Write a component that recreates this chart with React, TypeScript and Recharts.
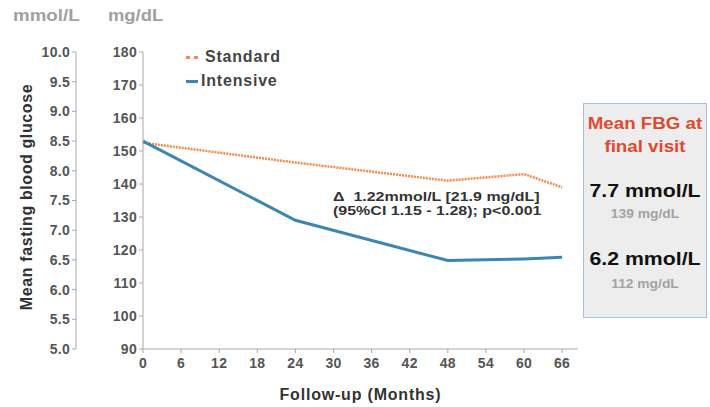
import React from 'react';
import {
    LineChart,
    Line,
    XAxis,
    YAxis
} from 'recharts';

const MONTHS = [0, 24, 48, 60, 66];
const STANDARD = [152.5, 146.5, 141, 143, 139];
const INTENSIVE = [153, 129, 116.8, 117.3, 117.8];

const MONTH_TICKS = [0, 6, 12, 18, 24, 30, 36, 42, 48, 54, 60, 66];
const MGDL_TICKS = [90, 100, 110, 120, 130, 140, 150, 160, 170, 180];
const MMOL_TICKS = [5.0, 5.5, 6.0, 6.5, 7.0, 7.5, 8.0, 8.5, 9.0, 9.5, 10.0];

// mmol/L = mg/dL / 18, used only to give the mmol axis something to scale
const chartData = MONTHS.map((m, i) => ({
    month: m,
    standard: STANDARD[i],
    intensive: INTENSIVE[i],
    standardMmol: STANDARD[i] / 18
}));

const ORANGE = '#f28a4c';
const BLUE = '#3d86b3';
const AXIS = '#a8a8a8';
const TICK = { fill: '#555', fontSize: 14, fontWeight: 700, letterSpacing: 0.3 };

const FONT = 'Arial, "Liberation Sans", sans-serif';

// a line of centred text, stretched a little wider like the source image
const Stretch = ({ top, h, size, color, sx, children }: any) => (
    <div style={{
        position: 'absolute', left: 0, right: 0, top, height: h, lineHeight: `${h}px`,
        fontSize: size, color, fontWeight: 700, textAlign: 'center', whiteSpace: 'nowrap',
        transform: `scaleX(${sx})`, transformOrigin: 'center'
    }}>
        {children}
    </div>
);

export default function App() {
    return (
        <div style={{ position: 'absolute', left: 0, top: 0, width: 710, height: 407, background: '#fff', fontFamily: FONT }}>
            <LineChart
                width={710}
                height={407}
                data={chartData}
                margin={{ top: 52, right: 132, bottom: 8, left: 0 }}
            >
                <XAxis
                    dataKey="month"
                    type="number"
                    domain={[0, 68.5]}
                    ticks={MONTH_TICKS}
                    tick={TICK}
                    tickSize={4}
                    tickMargin={5}
                    stroke={AXIS}
                    height={50}
                    label={{ value: 'Follow-up (Months)', position: 'insideBottom', offset: -1, fill: '#333', fontSize: 16, fontWeight: 700, letterSpacing: 0.8 }}
                />
                <YAxis
                    yAxisId="mg"
                    type="number"
                    domain={[90, 180]}
                    ticks={MGDL_TICKS}
                    tick={TICK}
                    tickSize={4}
                    stroke={AXIS}
                    width={67}
                />
                <YAxis
                    yAxisId="mmol"
                    type="number"
                    domain={[5, 10]}
                    ticks={MMOL_TICKS}
                    tickFormatter={(v: number) => v.toFixed(1)}
                    tick={TICK}
                    tickSize={4}
                    stroke={AXIS}
                    width={76}
                />
                <Line
                    yAxisId="mmol"
                    dataKey="standardMmol"
                    stroke="none"
                    dot={false}
                    activeDot={false}
                    isAnimationActive={false}
                />
                <Line
                    yAxisId="mg"
                    dataKey="standard"
                    stroke={ORANGE}
                    strokeWidth={2.5}
                    strokeDasharray="2 1"
                    dot={false}
                    isAnimationActive={false}
                />
                <Line
                    yAxisId="mg"
                    dataKey="intensive"
                    stroke={BLUE}
                    strokeWidth={3}
                    dot={false}
                    isAnimationActive={false}
                />
            </LineChart>

            {/* y axis title */}
            <div style={{
                position: 'absolute', left: 27, top: 197, whiteSpace: 'nowrap',
                transform: 'translate(-50%, -50%) rotate(-90deg)',
                fontSize: 16, fontWeight: 700, color: '#333', letterSpacing: 0.6
            }}>
                Mean fasting blood glucose
            </div>

            {/* legend */}
            <div style={{ position: 'absolute', left: 186, top: 45, fontWeight: 700, fontSize: 16, color: '#444', lineHeight: '24px', letterSpacing: 0.8 }}>
                <div style={{ display: 'flex', alignItems: 'center' }}>
                    <span style={{ width: 12, height: 0, borderTop: `3px dotted ${ORANGE}`, marginRight: 7 }} />
                    Standard
                </div>
                <div style={{ display: 'flex', alignItems: 'center' }}>
                    <span style={{ width: 12, height: 3, background: BLUE, marginRight: 3 }} />
                    Intensive
                </div>
            </div>

            <div style={{ position: 'absolute', left: 13, top: 7, fontSize: 16, fontWeight: 700, color: '#a0a0a0', transform: 'scaleX(1.17)', transformOrigin: 'left' }}>mmol/L</div>
            <div style={{ position: 'absolute', left: 108, top: 7, fontSize: 16, fontWeight: 700, color: '#a0a0a0', transform: 'scaleX(1.15)', transformOrigin: 'left' }}>mg/dL</div>

            <div style={{
                position: 'absolute', left: 333, top: 190, fontSize: 13, fontWeight: 700, color: '#333',
                lineHeight: '14px', whiteSpace: 'nowrap', transform: 'scaleX(1.23)', transformOrigin: 'left'
            }}>
                <div>Δ&nbsp; 1.22mmol/L [21.9 mg/dL]</div>
                <div>(95%CI 1.15 - 1.28); p&lt;0.001</div>
            </div>

            <div style={{
                position: 'absolute', left: 583, top: 103, width: 122, height: 213,
                background: '#ededed', border: '1px solid #a9c0dc'
            }}>
                <Stretch top={8} h={23} size={16} color="#e0492f" sx={1.17}>Mean FBG at</Stretch>
                <Stretch top={31} h={23} size={16} color="#e0492f" sx={1.17}>final visit</Stretch>
                <Stretch top={75} h={24} size={19} color="#111" sx={1.12}>7.7 mmol/L</Stretch>
                <Stretch top={102} h={16} size={12} color="#a3a3a3" sx={1.15}>139 mg/dL</Stretch>
                <Stretch top={143} h={24} size={19} color="#111" sx={1.12}>6.2 mmol/L</Stretch>
                <Stretch top={172} h={16} size={12} color="#a3a3a3" sx={1.15}>112 mg/dL</Stretch>
            </div>
        </div>
    );
}
